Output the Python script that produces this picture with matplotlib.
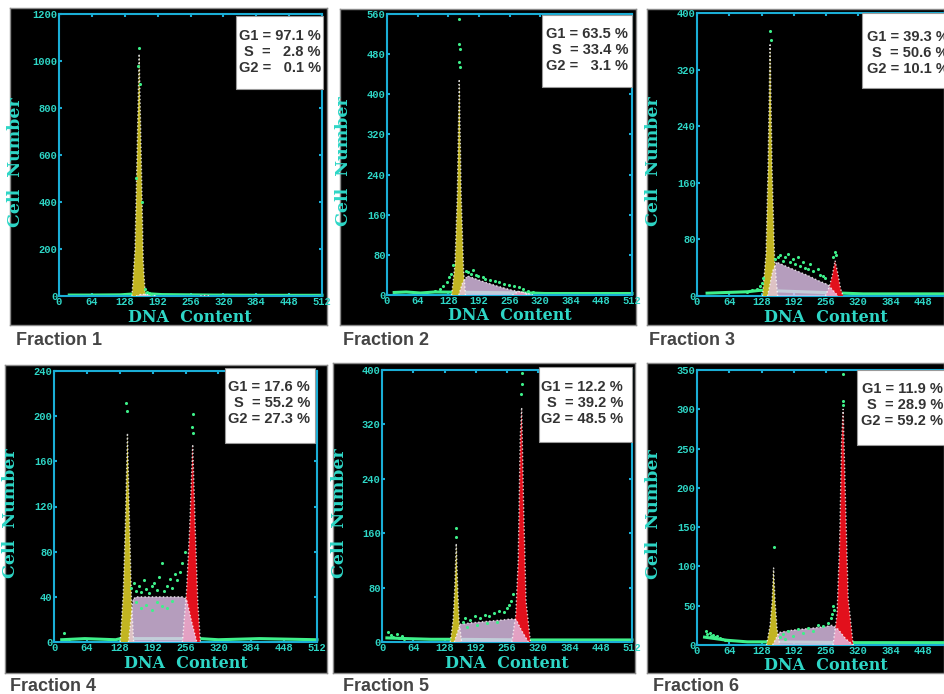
import matplotlib.pyplot as plt
from matplotlib.patches import Rectangle

# ---- values ----
fractions = ["Fraction 1", "Fraction 2", "Fraction 3", "Fraction 4", "Fraction 5", "Fraction 6"]
y_max = [1200, 560, 400, 240, 400, 350]
y_step = [200, 80, 80, 40, 80, 50]
x_ticks = [0, 64, 128, 192, 256, 320, 384, 448, 512]

g1_pct = [97.1, 63.5, 39.3, 17.6, 12.2, 11.9]
s_pct = [2.8, 33.4, 50.6, 55.2, 39.2, 28.9]
g2_pct = [0.1, 3.1, 10.1, 27.3, 48.5, 59.2]

# G1 peak (yellow)
g1_x = [[142, 148, 152, 156, 160, 164, 168],
        [135, 142, 147, 151, 155, 160, 164],
        [130, 137, 141, 145, 149, 154, 160],
        [129, 135, 139, 143, 147, 151, 155],
        [140, 146, 149, 152, 155, 158, 163],
        [138, 145, 149, 152, 155, 159, 164]]
g1_y = [[0, 200, 600, 1030, 600, 150, 0],
        [0, 60, 200, 430, 200, 50, 0],
        [0, 60, 180, 357, 180, 50, 0],
        [0, 45, 105, 185, 105, 35, 0],
        [0, 35, 80, 145, 80, 30, 0],
        [0, 25, 55, 98, 55, 20, 0]]

# S phase (lavender)
s_x = [[150, 160, 175, 190],
       [150, 158, 168, 180, 200, 230, 260, 280, 295, 305],
       [140, 150, 158, 180, 200, 220, 240, 260, 270, 280],
       [145, 154, 160, 200, 250, 258, 268, 278],
       [148, 160, 180, 210, 240, 265, 275, 285, 300],
       [150, 163, 190, 220, 250, 268, 280, 295, 310]]
s_y = [[0, 8, 6, 0],
       [0, 25, 38, 34, 27, 18, 10, 6, 3, 0],
       [0, 35, 48, 41, 35, 29, 22, 16, 8, 0],
       [0, 38, 40, 40, 40, 38, 18, 0],
       [0, 26, 28, 30, 32, 34, 33, 18, 0],
       [0, 16, 19, 21, 23, 25, 20, 8, 0]]

# G2 peak (red)
g2_x = [[275, 285, 295],
        [262, 275, 285, 295],
        [255, 262, 268, 274, 280, 285, 290],
        [250, 258, 264, 270, 275, 280, 285],
        [266, 274, 279, 283, 286, 290, 295, 304],
        [270, 278, 283, 287, 290, 294, 300, 310]]
g2_y = [[0, 2, 0],
        [0, 7, 5, 0],
        [0, 12, 28, 50, 30, 10, 0],
        [0, 45, 100, 175, 100, 35, 0],
        [0, 40, 120, 300, 345, 200, 60, 0],
        [0, 40, 130, 260, 300, 200, 60, 0]]

# baseline of raw events
base_x = [[20, 60, 120, 140, 170, 200, 300, 400, 512],
          [15, 40, 70, 100, 300, 330, 400, 512],
          [20, 60, 100, 125, 290, 330, 400, 512],
          [15, 60, 120, 129, 285, 320, 400, 512],
          [10, 50, 100, 140, 305, 330, 400, 512],
          [15, 60, 100, 138, 310, 340, 400, 512]]
base_y = [[4, 4, 5, 8, 10, 6, 4, 3, 3],
          [5, 6, 4, 6, 4, 3, 3, 3],
          [4, 5, 6, 8, 4, 3, 3, 3],
          [2, 3, 2, 3, 3, 2, 3, 2],
          [6, 5, 4, 4, 3, 3, 3, 3],
          [10, 6, 4, 4, 3, 3, 3, 3]]

# scattered raw events (green dots)
dot_x = [[156, 154, 158, 150, 162, 168, 172, 180, 176],
         [150, 151, 152, 151, 152, 100, 110, 118, 125, 130, 133, 138,
          165, 170, 175, 180, 185, 190, 200, 205, 215, 225, 235, 245, 255, 265, 275, 285, 295, 305],
         [145, 146, 100, 110, 120, 125, 128, 130, 155, 160, 165, 170, 175, 180, 185, 190, 195,
          200, 205, 210, 215, 220, 225, 230, 240, 245, 250, 255, 273, 275, 270],
         [141, 142, 270, 269, 270, 20, 30, 150, 155, 160, 165, 170, 175, 180, 185, 190, 195, 200,
          205, 210, 215, 220, 225, 230, 235, 240, 245, 250, 255, 160, 170, 180, 190, 200, 210, 220, 230],
         [151, 152, 286, 286, 285, 12, 18, 22, 30, 35, 40, 45, 165, 170, 180, 190, 200, 210, 220,
          230, 240, 250, 255, 260, 265, 268, 175, 195, 215, 235],
         [152, 290, 290, 289, 18, 20, 25, 28, 32, 36, 40, 45, 50, 55, 60, 165, 170, 175, 180, 190,
          200, 210, 220, 230, 240, 250, 260, 265, 268, 270, 272]]
dot_y = [[1055, 980, 900, 500, 400, 30, 15, 10, 12],
         [550, 500, 490, 465, 455, 8, 12, 18, 25, 35, 42, 60,
          48, 45, 42, 50, 40, 38, 35, 32, 30, 28, 25, 22, 20, 18, 15, 12, 8, 5],
         [375, 362, 6, 8, 10, 14, 18, 25, 52, 55, 58, 50, 55, 60, 48, 52, 45,
          55, 42, 48, 40, 38, 45, 35, 38, 30, 28, 25, 62, 58, 55],
         [212, 205, 202, 190, 185, 8, 3, 48, 52, 45, 50, 44, 55, 47, 43, 50, 52, 46,
          58, 70, 45, 50, 56, 48, 60, 55, 62, 70, 80, 35, 30, 33, 28, 35, 32, 30, 36],
         [168, 155, 395, 380, 365, 15, 10, 8, 12, 6, 9, 5, 30, 35, 33, 38, 36, 40, 38,
          42, 45, 44, 50, 55, 60, 70, 22, 25, 28, 30],
         [125, 345, 310, 305, 18, 14, 15, 12, 13, 10, 11, 9, 8, 7, 6, 10, 14, 8, 18, 12,
          20, 15, 22, 18, 26, 24, 28, 35, 40, 50, 45]]

# ---- layout (pixels of the 944x694 picture) ----
W, H = 944, 694
frame_px = [(10, 8, 327, 325), (340, 9, 636, 325), (647, 9, 944, 325),
            (5, 365, 327, 673), (333, 363, 635, 673), (647, 363, 944, 673)]
axes_px = [(59, 14, 322, 296), (387, 14, 632, 295), (697, 13, 955, 296),
           (54, 371, 317, 642), (382, 370, 632, 642), (697, 370, 955, 645)]
box_px = [(236, 16, 323, 89), (542, 15, 632, 87), (862, 13, 960, 88),
          (225, 368, 315, 443), (539, 367, 632, 442), (857, 370, 960, 445)]
text_px = [(321, 52), (628, 50), (949, 53), (310, 403), (623, 403), (943, 405)]
label_px = [(16, 345), (343, 345), (649, 345), (10, 691), (343, 691), (653, 691)]
xlabel_cx = [190, 510, 826, 186, 507, 826]

CYAN_LINE = '#1aaed6'
CYAN_TEXT = '#2ed6c6'
GREEN = '#3ef08a'
YELLOW = '#c2b522'
LAVENDER = '#e4c6ee'
RED = '#e2101c'


def rect(x0, y0, x1, y1):
    return [x0 / W, 1 - y1 / H, (x1 - x0) / W, (y1 - y0) / H]


def pct(v):
    s = f"{v:.1f}"
    return "  " * (4 - len(s)) + s


fig = plt.figure(figsize=(9.44, 6.94), dpi=100)
fig.patch.set_facecolor('white')

for i in range(6):
    bg = fig.add_axes(rect(*frame_px[i]))
    bg.set_facecolor('black')
    bg.set_xticks([])
    bg.set_yticks([])
    for sp in bg.spines.values():
        sp.set_color('#8a8a8a')
        sp.set_linewidth(1)

    ax = fig.add_axes(rect(*axes_px[i]))
    ax.patch.set_alpha(0)
    ax.set_xlim(0, 512)
    ax.set_ylim(0, y_max[i])

    ax.plot(base_x[i], base_y[i], color=GREEN, lw=2.2, zorder=2, clip_on=False)
    ax.fill(g2_x[i], g2_y[i], color=RED, zorder=3, lw=0)
    ax.fill(g1_x[i], g1_y[i], color=YELLOW, zorder=3, lw=0)
    ax.fill(s_x[i], s_y[i], color=LAVENDER, alpha=0.8, zorder=4, lw=0)
    for xs, ys in [(g1_x[i], g1_y[i]), (s_x[i], s_y[i]), (g2_x[i], g2_y[i])]:
        ax.plot(xs, ys, color='white', ls=':', lw=1, alpha=0.8, zorder=5)
    ax.scatter(dot_x[i], dot_y[i], s=5, color=GREEN, zorder=6, lw=0)

    ax.set_xticks(x_ticks)
    ax.set_yticks(range(0, y_max[i] + 1, y_step[i]))
    for sp in ax.spines.values():
        sp.set_color(CYAN_LINE)
        sp.set_linewidth(1.5)
    ax.tick_params(top=True, right=True, direction='in', length=2.5, width=1.5,
                   color=CYAN_LINE, labelcolor=CYAN_TEXT, pad=1)
    for lab in ax.get_xticklabels() + ax.get_yticklabels():
        lab.set_fontfamily('Liberation Mono')
        lab.set_fontweight('bold')
        lab.set_fontsize(7.5)

    ax_l, ax_t, ax_r, ax_b = axes_px[i]
    fig.text((ax_l - 43) / W, 1 - ((ax_t + ax_b) / 2 + 7) / H, 'Cell  Number',
             rotation=90, ha='center', va='center', color=CYAN_TEXT,
             family='DejaVu Serif', weight='bold', fontsize=12.5)
    fig.text(xlabel_cx[i] / W, 1 - (ax_b + 21) / H, 'DNA  Content', ha='center', va='center',
             color=CYAN_TEXT, family='DejaVu Serif', weight='bold', fontsize=11.5)

    bx0, by0, bx1, by1 = box_px[i]
    fig.add_artist(Rectangle((bx0 / W, 1 - by1 / H), (bx1 - bx0) / W, (by1 - by0) / H,
                             transform=fig.transFigure, facecolor='white',
                             edgecolor='#9a9a9a', lw=0.8, zorder=10))
    txt = (f"G1 = {pct(g1_pct[i])} %\n"
           f"S  = {pct(s_pct[i])} %\n"
           f"G2 = {pct(g2_pct[i])} %")
    tx, ty = text_px[i]
    fig.text(tx / W, 1 - ty / H, txt, ha='right', va='center', multialignment='right',
             family='Liberation Sans', weight='bold', fontsize=10.5, color='#333333',
             linespacing=1.2, zorder=11)

    lx, ly = label_px[i]
    fig.text(lx / W, 1 - ly / H, fractions[i], ha='left', va='baseline',
             family='Liberation Sans', weight='bold', fontsize=13, color='#454545')

fig.savefig('out.png', dpi=100)
